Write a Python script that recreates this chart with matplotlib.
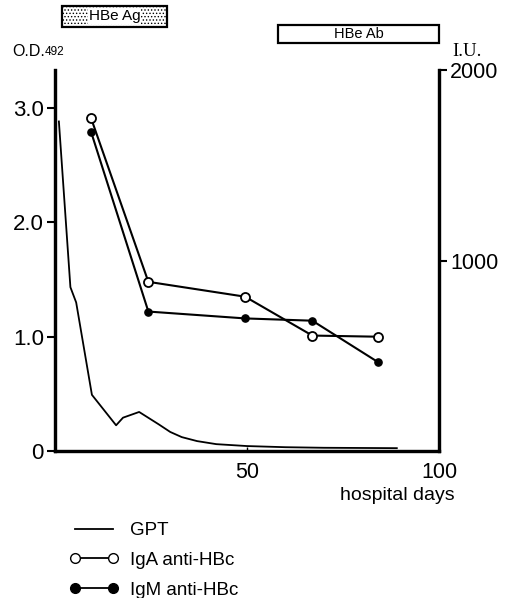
import matplotlib.pyplot as plt
from matplotlib.lines import Line2D
from matplotlib.patches import Rectangle
import matplotlib.transforms as mtransforms

plt.rcParams['font.family'] = ['Liberation Sans', 'DejaVu Sans']
plt.rcParams['hatch.linewidth'] = 0.6

# GPT (I.U., right axis)
gpt_days = [1, 4, 5.5, 9.6, 15.9, 17.7, 21.9, 27, 30, 33, 37, 42, 50, 60, 70, 89]
gpt_iu = [1730, 860, 780, 295, 135, 175, 205, 140, 100, 73, 52, 36, 26, 20, 17, 15]

# anti-HBc ELISA (O.D.492, left axis)
ab_days = [9.4, 24.3, 49.5, 67, 84]
iga_od = [2.91, 1.48, 1.35, 1.01, 1.00]
igm_od = [2.79, 1.22, 1.16, 1.14, 0.78]

# serology periods (hospital days)
hbeag_span = (1.8, 29.2)
hbeab_span = (58, 100)

fig = plt.figure(figsize=(5.05, 5.98), dpi=100)
ax = fig.add_axes([0.109, 0.2458, 0.7604, 0.6371])
ax2 = ax.twinx()

ax2.plot(gpt_days, gpt_iu, color='black', lw=1.3)
ax.plot(ab_days, iga_od, '-o', color='black', lw=1.5, ms=6.5,
        mfc='white', mec='black', mew=1.3, zorder=5)
ax.plot(ab_days, igm_od, '-o', color='black', lw=1.5, ms=5.2,
        mfc='black', mec='black', zorder=5)

ax.set_xlim(0, 100)
ax.set_ylim(0, 3.333)
ax2.set_ylim(0, 2000)

for a in (ax, ax2):
    for s in a.spines.values():
        s.set_linewidth(2.3)
    a.spines['top'].set_visible(False)

ax.set_xticks([50, 100])
ax.set_xticklabels(['50', '100'])
ax.set_yticks([0, 1, 2, 3])
ax.set_yticklabels(['0', '1.0', '2.0', '3.0'])
ax.tick_params(axis='x', direction='in', length=3, width=1, pad=8, labelsize=15.5)
ax.tick_params(axis='y', direction='out', length=6, width=1.5, pad=2, labelsize=16)
ax2.set_yticks([1000, 2000])
ax2.tick_params(axis='y', direction='out', length=6, width=1.5, pad=2, labelsize=15.5)

# periods of HBeAg / HBeAb positivity above the plot
trans = mtransforms.blended_transform_factory(ax.transData, ax.transAxes)
ax.add_patch(Rectangle((hbeag_span[0], 1.113), hbeag_span[1] - hbeag_span[0], 0.055,
                       transform=trans, clip_on=False, facecolor='white',
                       edgecolor='black', lw=1.6, hatch='.....'))
ax.text(sum(hbeag_span) / 2, 1.1405, 'HBe Ag', transform=trans, ha='center', va='center',
        fontsize=11,
        bbox=dict(facecolor='white', edgecolor='none', pad=0.3))
ax.add_patch(Rectangle((hbeab_span[0], 1.071), hbeab_span[1] - hbeab_span[0], 0.047,
                       transform=trans, clip_on=False, facecolor='white',
                       edgecolor='black', lw=1.6))
ax.text(sum(hbeab_span) / 2, 1.0945, 'HBe Ab', transform=trans, ha='center', va='center',
        fontsize=10.5)

# axis captions
fig.text(12 / 505, 1 - 51 / 598, 'O.D.', fontsize=11.5, va='center')
fig.text(45 / 505, 1 - 52 / 598, '492', fontsize=8.5, va='center')
fig.text(452 / 505, 1 - 51 / 598, 'I.U.', fontsize=13.5, va='center',
         family=['Liberation Serif', 'DejaVu Serif'])
fig.text(455 / 505, 1 - 496 / 598, 'hospital days', fontsize=14, ha='right', va='center')

handles = [
    Line2D([], [], color='black', lw=1.3),
    Line2D([], [], color='black', lw=1.3, marker='o', ms=7, mfc='white', mec='black'),
    Line2D([], [], color='black', lw=1.3, marker='o', ms=7, mfc='black', mec='black'),
]
fig.legend(handles, ['GPT', 'IgA anti-HBc', 'IgM anti-HBc'], loc='upper left',
           bbox_to_anchor=(54 / 505, 1 - 507 / 598), frameon=False, numpoints=2,
           handlelength=2.63, handletextpad=0.6, labelspacing=0.68,
           borderpad=0.3, prop={'size': 13.5})

fig.savefig('out.png', dpi=100)
